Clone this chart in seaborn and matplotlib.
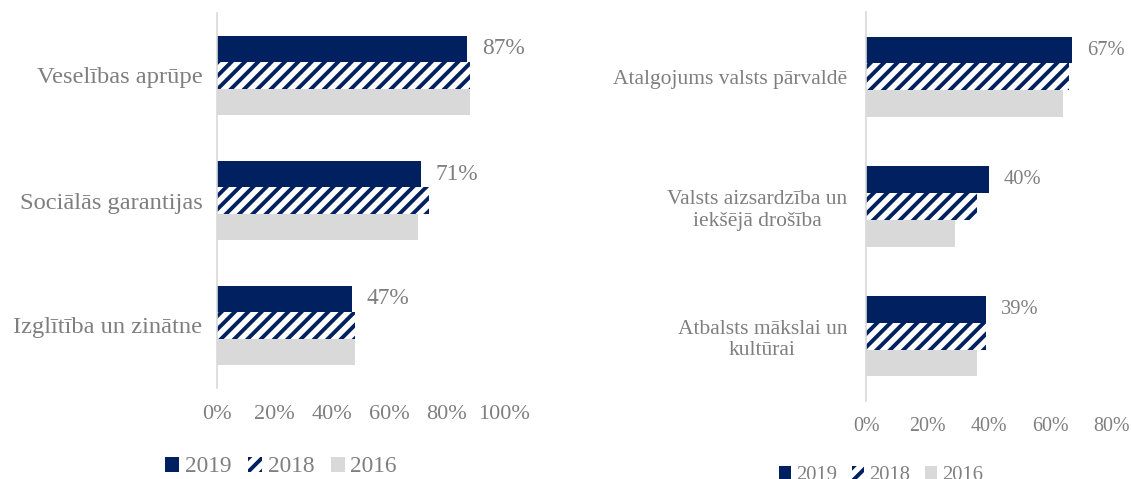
import pandas as pd
import matplotlib.pyplot as plt
import seaborn as sns

# data (percent)
years = ['2019', '2018', '2016']

left_categories = ['Veselības aprūpe', 'Sociālās garantijas', 'Izglītība un zinātne']
left_2019 = [87, 71, 47]
left_2018 = [88, 74, 48]
left_2016 = [88, 70, 48]
left_ticks = [0, 20, 40, 60, 80, 100]

right_categories = ['Atalgojums valsts pārvaldē', 'Valsts aizsardzība un\niekšējā drošība',
                    'Atbalsts mākslai un\nkultūrai']
right_2019 = [67, 40, 39]
right_2018 = [66, 36, 39]
right_2016 = [64, 29, 36]
right_ticks = [0, 20, 40, 60, 80]

NAVY = '#002060'
LIGHT = '#d9d9d9'
GREY = '#7f7f7f'
W, H, DPI = 1132, 479, 80

sns.set_style('white')
plt.rcParams['font.family'] = ['Liberation Serif', 'DejaVu Serif']
plt.rcParams['hatch.linewidth'] = 3.5
plt.rcParams['hatch.color'] = NAVY


def long_df(cats, v19, v18, v16):
    rows = []
    for yr, vals in zip(years, [v19, v18, v16]):
        for c, v in zip(cats, vals):
            rows.append({'category': c, 'year': yr, 'value': v})
    return pd.DataFrame(rows)


def draw(ax, df, ticks, width, fs, cat_fs, tick_fs, ypad, xpad):
    sns.barplot(data=df, x='value', y='category', hue='year', hue_order=years,
                palette=[NAVY, 'white', LIGHT], saturation=1, width=width, gap=0,
                orient='h', linewidth=0, legend=False, ax=ax)
    for bar in ax.containers[1]:
        bar.set_facecolor('white')
        bar.set_edgecolor(NAVY)
        bar.set_linewidth(0)
        bar.set_hatch('//')
    vals = [b.get_width() for b in ax.containers[0]]
    ax.bar_label(ax.containers[0], labels=[f'{v:.0f}%' for v in vals],
                 padding=13.5, fontsize=fs, color=GREY)
    ax.set_xlim(ticks[0], ticks[-1])
    ax.set_xticks(ticks)
    ax.set_xticklabels([f'{t}%' for t in ticks])
    ax.set_xlabel('')
    ax.set_ylabel('')
    for s in ['top', 'right', 'bottom']:
        ax.spines[s].set_visible(False)
    ax.spines['left'].set_color(LIGHT)
    ax.spines['left'].set_linewidth(1.5)
    ax.tick_params(axis='y', length=0, pad=ypad, labelsize=cat_fs, labelcolor=GREY)
    ax.tick_params(axis='x', length=0, pad=xpad, labelsize=tick_fs, labelcolor=GREY)
    for t in ax.get_yticklabels():
        t.set_multialignment('center')


fig = plt.figure(figsize=(W / DPI, H / DPI), dpi=DPI)

ax1 = fig.add_axes([217 / W, 1 - 388 / H, 287 / W, 375 / H])
draw(ax1, long_df(left_categories, left_2019, left_2018, left_2016),
     left_ticks, 0.636, 21, 22, 20, 13, 15)

ax2 = fig.add_axes([866 / W, 1 - 401 / H, 246 / W, 389 / H])
draw(ax2, long_df(right_categories, right_2019, right_2018, right_2016),
     right_ticks, 0.62, 18.5, 19.3, 18, 17, 14)

for ax, cx, cy, fs in [(ax1, 281, 467, 21), (ax2, 881, 475, 18.5)]:
    handles = [c.patches[0] for c in ax.containers]
    fig.legend(handles, years, loc='center', bbox_to_anchor=(cx / W, 1 - cy / H),
               ncol=3, frameon=False, fontsize=fs, labelcolor=GREY,
               handlelength=0.6, handleheight=0.6, handletextpad=0.25,
               columnspacing=0.7)

fig.savefig('out.png', dpi=DPI)
